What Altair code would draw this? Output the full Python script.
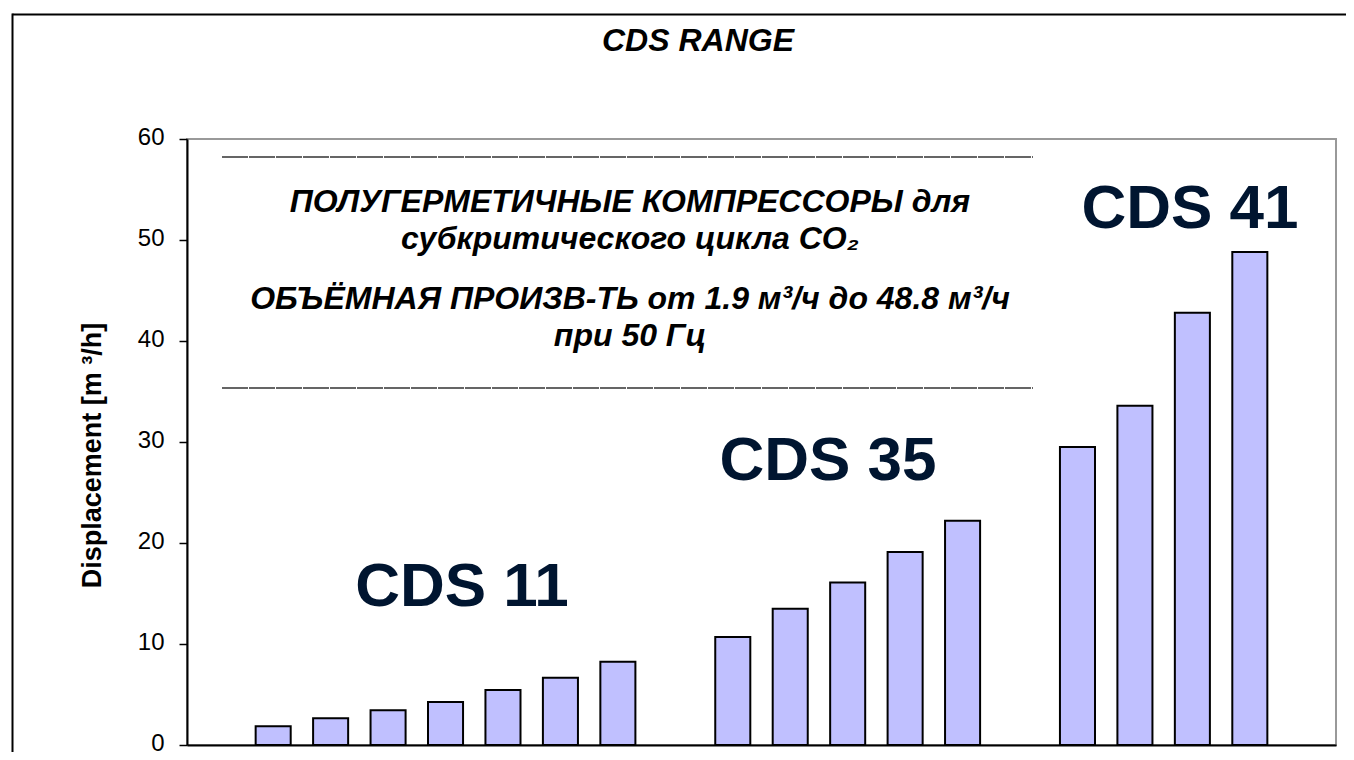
import altair as alt
import pandas as pd

# ---- data ----
groups = ["CDS 11", "CDS 35", "CDS 41"]
cds11 = [1.85, 2.65, 3.45, 4.25, 5.45, 6.65, 8.25]
cds35 = [10.7, 13.5, 16.1, 19.1, 22.2]
cds41 = [29.5, 33.6, 42.8, 48.8]
y_ticks = [0, 10, 20, 30, 40, 50, 60]

title_text = "CDS RANGE"
y_title = "Displacement [m ³/h]"
box_lines = [
    "ПОЛУГЕРМЕТИЧНЫЕ КОМПРЕССОРЫ для",
    "субкритического цикла CO₂",
    "ОБЪЁМНАЯ ПРОИЗВ-ТЬ от 1.9 м³/ч до 48.8 м³/ч",
    "при 50 Гц",
]

# ---- build table (empty slots separate the groups, as in the original) ----
slots = ["gap-start"]
rows = []
for g, vals in zip(groups, [cds11, cds35, cds41]):
    for i, v in enumerate(vals):
        name = f"{g} #{i + 1}"
        slots.append(name)
        rows.append({"model": name, "value": v, "group": g})
    slots.append(f"gap-after-{g}")
df = pd.DataFrame(rows)

W, H = 1149, 606
PAD_R, PAD_B = 10, 7
FONT = "Liberation Sans"

bars = alt.Chart(df).mark_bar(
    fill="#C0C0FF", stroke="black", strokeWidth=2
).encode(
    x=alt.X("model:N", sort=slots,
            scale=alt.Scale(domain=slots, paddingInner=0.39, paddingOuter=0.195),
            axis=alt.Axis(title=None, labels=False, ticks=False,
                          domainColor="black", domainWidth=2)),
    y=alt.Y("value:Q",
            scale=alt.Scale(domain=[0, 60], nice=False),
            axis=alt.Axis(values=y_ticks, grid=False, tickSize=8, tickWidth=1.5,
                          tickColor="black", domainColor="black", domainWidth=2,
                          labelFontSize=24, labelFont=FONT, labelColor="black",
                          labelPadding=15, labelOffset=-1.5,
                          title=y_title, titleFont=FONT, titleFontSize=27,
                          titleFontWeight="bold", titleColor="black",
                          titleAngle=270, titleBaseline="alphabetic",
                          titleX=-87, titleY=316)),
)


def text_layer(txt, x, y, size, color="black", italic=True):
    return alt.Chart(pd.DataFrame({"t": [txt]})).mark_text(
        font=FONT, fontSize=size, fontWeight="bold",
        fontStyle="italic" if italic else "normal",
        color=color, align="center", baseline="alphabetic",
    ).encode(text="t:N", x=alt.value(x), y=alt.value(y))


def rule_layer(x, x2, y, y2=None, color="black", width=2, dash=None):
    enc = dict(x=alt.value(x), y=alt.value(y))
    if x2 is not None:
        enc["x2"] = alt.value(x2)
    if y2 is not None:
        enc["y2"] = alt.value(y2)
    kw = dict(color=color, strokeWidth=width)
    if dash:
        kw["strokeDash"] = dash
    return alt.Chart(pd.DataFrame({"a": [0]})).mark_rule(**kw).encode(**enc)


layers = [
    bars,
    # outer chart frame
    rule_layer(-174.5, W + PAD_R, -124.5, color="black", width=2),
    rule_layer(-174.5, None, -125.5, H + PAD_B, color="black", width=2),
    # title
    text_layer(title_text, 511, -88, 32),
    # boxed note
    rule_layer(35, 846, 18, color="#333333", width=1.5, dash=[26, 1]),
    rule_layer(35, 846, 249, color="#333333", width=1.5, dash=[26, 1]),
    text_layer(box_lines[0], 443, 73, 32),
    text_layer(box_lines[1], 443, 110, 32),
    text_layer(box_lines[2], 443, 170, 32),
    text_layer(box_lines[3], 443, 207, 32),
    # group labels
    text_layer(groups[0], 275, 467, 62, color="#001530", italic=False),
    text_layer(groups[1], 641, 341, 62, color="#001530", italic=False),
    text_layer(groups[2], 1003, 89, 62, color="#001530", italic=False),
]

chart = alt.layer(*layers).properties(
    width=W, height=H,
    autosize=alt.AutoSizeParams(type="none"),
    padding={"left": 179, "top": 131, "right": PAD_R, "bottom": PAD_B},
    background="white",
).configure_view(stroke="#999999", strokeWidth=2)

chart.save("out.html", embed_options={"renderer": "svg", "actions": False})
